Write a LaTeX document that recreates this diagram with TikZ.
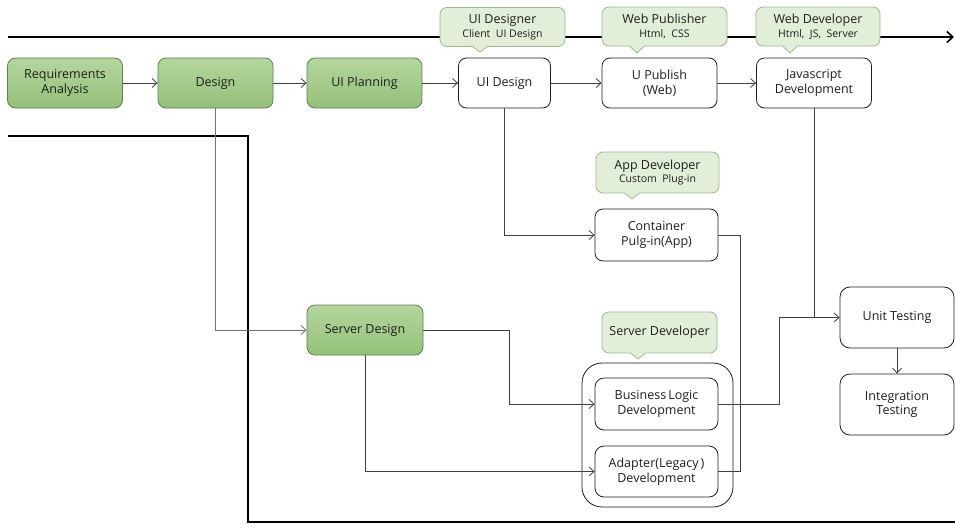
\documentclass[tikz,border=0pt]{standalone}
\usepackage{fontspec}
\setmainfont{Open Sans}
\usetikzlibrary{arrows.meta,calc}
\definecolor{gfillT}{HTML}{B4D69E}
\definecolor{gfillB}{HTML}{94C079}
\definecolor{gdraw}{HTML}{5E7F50}
\definecolor{cfill}{HTML}{E2EFD8}
\definecolor{cdraw}{HTML}{A3B494}
\definecolor{txt}{HTML}{1E1E1E}
\definecolor{conn}{HTML}{404040}
\tikzset{
  x=1pt, y=-1pt,
  every node/.style={text=txt, font=\fontsize{12.5}{14.5}\selectfont, align=center, inner sep=0pt},
  gbox/.style={draw=gdraw, line width=0.8pt, rounded corners=8pt, top color=gfillT, bottom color=gfillB, minimum width=115pt, minimum height=50pt},
  wbox/.style={draw=txt, line width=0.8pt, rounded corners=8pt, fill=white, minimum width=115pt, minimum height=50pt},
  callbox/.style={draw=cdraw, line width=0.8pt, rounded corners=7pt, fill=cfill, minimum width=125pt, minimum height=39pt},
  cline/.style={draw=conn, line width=0.8pt},
  carrow/.style={cline, -{Straight Barb[length=5pt,width=9pt]}},
  bigline/.style={draw=black, line width=1.8pt},
}
\newcommand{\subl}{\fontsize{10.5}{12}\selectfont}
\newcommand{\calltail}[2]{%
  \fill[cfill] ($(#1)+(-7,-1.2)$) -- (#2) -- ($(#1)+(7,-1.2)$) -- cycle;
  \draw[draw=cdraw, line width=0.8pt] ($(#1)+(-7,0)$) -- (#2) -- ($(#1)+(7,0)$);}
\begin{document}
\begin{tikzpicture}
\useasboundingbox (0,0) rectangle (955,530);
\fill[white] (0,0) rectangle (955,530);
% big lines
\coordinate (tl0) at (8,37);
\coordinate (tl1) at (954,37);
\draw[bigline, -{Straight Barb[length=6pt,width=11pt,line width=1.6pt]}] (tl0) -- (tl1);
\coordinate (bl0) at (8,136);
\coordinate (bl1) at (248,136);
\coordinate (bl2) at (248,522);
\coordinate (bl3) at (955,522);
\draw[bigline] (bl0) -- (bl1) -- (bl2) -- (bl3);
% group box
\node[draw=txt, line width=0.8pt, rounded corners=20pt, minimum width=151pt, minimum height=144pt] (grp) at (657.5,435) {};
% nodes
\node[gbox] (req) at (65,83) {Requirements\\Analysis};
\node[gbox] (des) at (215.5,83) {Design};
\node[gbox] (uip) at (364.5,83) {UI Planning};
\node[wbox, minimum width=92pt] (uid) at (504.5,83) {UI Design};
\node[wbox] (upub) at (659.5,83) {U Publish\\(Web)};
\node[wbox] (js) at (814,83) {Javascript\\Development};
\node[wbox, minimum width=123pt, minimum height=52pt] (cont) at (656.5,235) {Container\\Pulg-in(App)};
\node[gbox, minimum width=116pt] (sd) at (365,330) {Server Design};
\node[wbox, minimum width=123pt, minimum height=52pt, rounded corners=9pt] (blg) at (656.5,404) {Business\,Logic\\Development};
\node[wbox, minimum width=123pt, minimum height=51pt, rounded corners=9pt] (adp) at (656.5,471.5) {Adapter(Legacy\,)\\Development};
\node[wbox, minimum width=114pt, minimum height=61pt, rounded corners=10pt] (unit) at (897,317.5) {Unit Testing};
\node[wbox, minimum width=114pt, minimum height=61pt, rounded corners=10pt] (integ) at (897,404.5) {Integration\\Testing};
% callouts
\node[callbox] (c1) at (502.5,27) {UI Designer\\[-1pt]{\subl Client~ UI Design}};
\coordinate (c1t) at (480,52);
\calltail{c1.south -| c1t}{c1t}
\node[callbox] (c2) at (664.5,26.5) {Web Publisher\\[-1pt]{\subl Html,~ CSS}};
\coordinate (c2t) at (637,53);
\calltail{c2.south -| c2t}{c2t}
\node[callbox, minimum width=124pt] (c3) at (818,26.5) {Web Developer\\[-1pt]{\subl Html,~ JS,~ Server}};
\coordinate (c3t) at (790,53);
\calltail{c3.south -| c3t}{c3t}
\node[callbox, minimum width=123pt, minimum height=41pt] (c4) at (657.5,172.5) {App Developer\\[-1pt]{\subl Custom~ Plug-in}};
\coordinate (c4t) at (632,199);
\calltail{c4.south -| c4t}{c4t}
\node[callbox, minimum width=115pt, minimum height=41pt] (c5) at (659.5,332.5) {Server Developer};
\coordinate (c5t) at (638,359);
\calltail{c5.south -| c5t}{c5t}
% connectors
\draw[carrow] (req) -- (des);
\draw[carrow] (des) -- (uip);
\draw[carrow] (uip) -- (uid);
\draw[carrow] (uid) -- (upub);
\draw[carrow] (upub) -- (js);
\draw[carrow, draw=gray!90!black] (des.south) |- (sd.west);
\draw[carrow] (uid.south) |- (cont.west);
\coordinate (sdk) at (509,330);
\draw[carrow] (sd.east) -- (sdk) |- (blg.west);
\draw[carrow] (sd.south) |- (adp.west);
\coordinate (ck) at (740,235);
\draw[cline] (cont.east) -- (ck) |- (adp.east);
\coordinate (bk) at (779,404);
\draw[carrow] (blg.east) -- (bk) |- (unit.west);
\draw[cline] (js.south) -- (js.south |- unit.west);
\draw[carrow] (unit) -- (integ);
\end{tikzpicture}
\end{document}
